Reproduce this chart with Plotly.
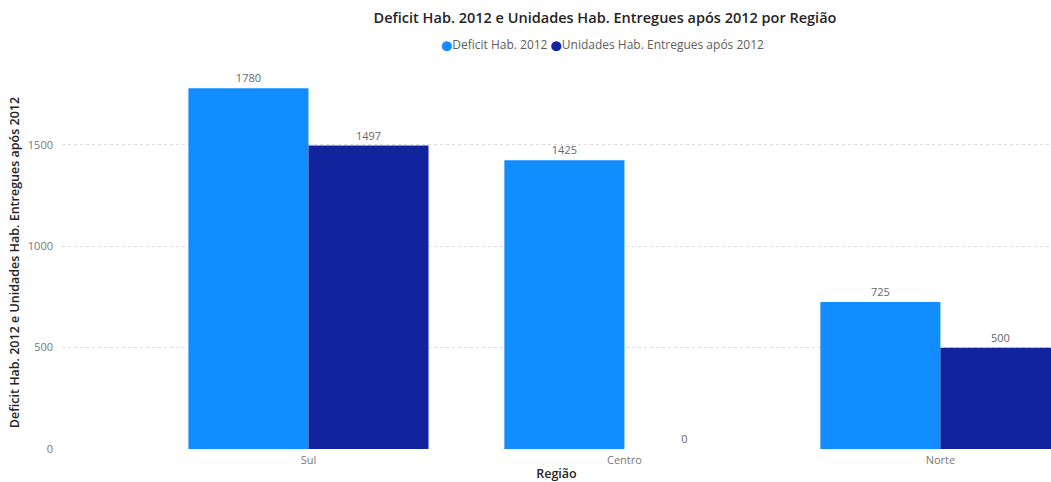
import plotly.graph_objects as go

regions = ["Sul", "Centro", "Norte"]
deficit = [1780, 1425, 725]
entregues = [1497, 0, 500]
series_names = ["Deficit Hab. 2012", "Unidades Hab. Entregues após 2012"]
colors = ["#118DFF", "#12239E"]

FONT = "Open Sans"
W, H = 1051, 482
fig = go.Figure()
for name, vals, col in zip(series_names, [deficit, entregues], colors):
    fig.add_trace(go.Bar(
        x=regions, y=vals, name=name, marker=dict(color=col, line=dict(width=0)),
        text=[str(v) for v in vals], textposition="outside", cliponaxis=False,
        textfont=dict(family=FONT, size=11, color="#666666"), showlegend=False,
    ))

legend_text = "".join(
    f"<span style='color:{c};font-size:10px;font-family:DejaVu Sans'>⬤</span>{n} "
    for n, c in zip(series_names, colors)
).strip()
fig.add_annotation(
    text=legend_text, xref="paper", yref="paper", x=0.547, xanchor="center",
    y=1 + 31/373, yanchor="middle", showarrow=False,
    font=dict(family=FONT, size=12, color="#605E5C"),
)

fig.update_layout(
    width=W, height=H,
    margin=dict(l=62, r=0, t=76, b=33),
    paper_bgcolor="white", plot_bgcolor="white",
    barmode="group", bargap=0.24, bargroupgap=0,
    font=dict(family=FONT, color="#666666", size=11),
    showlegend=False,
    title=dict(text="Deficit Hab. 2012 e Unidades Hab. Entregues após 2012 por Região",
               x=605/W, xref="container", xanchor="center", y=1-18/H, yref="container",
               yanchor="middle", font=dict(family=FONT, size=14.5, color="#252423", weight=600)),
)
fig.update_xaxes(
    type="category", range=[-0.78, 2.35], showgrid=False, zeroline=False, showline=False,
    automargin=False,
    ticks="", tickfont=dict(family=FONT, size=11, color="#777777"), ticklabelstandoff=3,
    title=dict(text="Região", standoff=6, font=dict(family=FONT, size=12.5, color="#252423", weight=600)),
)
fig.update_yaxes(
    range=[0, 1840], tickvals=[0, 500, 1000, 1500], showgrid=True, gridcolor="#DDDDDD",
    griddash="dot", gridwidth=1, zeroline=False, showline=False, ticks="",
    automargin=False,
    tickfont=dict(family=FONT, size=11, color="#777777"), ticklabelstandoff=8,
    title=dict(text="Deficit Hab. 2012 e Unidades Hab. Entregues após 2012", standoff=5,
               font=dict(family=FONT, size=12.5, color="#252423", weight=600)),
)
fig.write_html(
    "out.html",
    config={"displayModeBar": False},
    post_script="document.body.style.margin='0px';document.body.style.overflow='hidden';",
)
